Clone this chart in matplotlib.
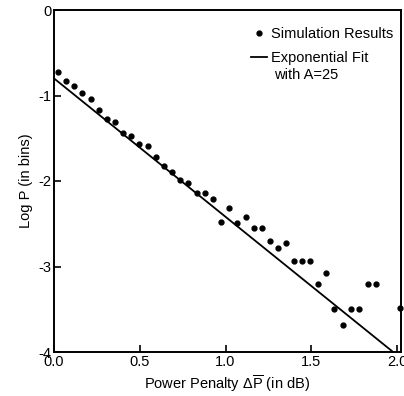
import matplotlib
matplotlib.use("Agg")
import matplotlib.pyplot as plt
from matplotlib.lines import Line2D

plt.rcParams['font.family'] = ['Liberation Sans', 'DejaVu Sans']
plt.rcParams['mathtext.fontset'] = 'custom'
plt.rcParams['mathtext.rm'] = 'Liberation Sans'
plt.rcParams['mathtext.it'] = 'Liberation Sans'
plt.rcParams['axes.unicode_minus'] = False

# Simulation results
sim_x = [0.022, 0.068, 0.117, 0.165, 0.214, 0.261, 0.309, 0.358, 0.405, 0.451,
         0.498, 0.547, 0.594, 0.642, 0.689, 0.737, 0.784, 0.833, 0.880, 0.926,
         0.973, 1.022, 1.068, 1.117, 1.164, 1.210, 1.259, 1.306, 1.352, 1.399,
         1.446, 1.494, 1.541, 1.588, 1.635, 1.683, 1.730, 1.776, 1.829, 1.877,
         2.020]
sim_y = [-0.73, -0.83, -0.89, -0.975, -1.04, -1.17, -1.28, -1.31, -1.44, -1.47,
         -1.57, -1.59, -1.72, -1.83, -1.89, -1.99, -2.02, -2.14, -2.14, -2.21,
         -2.48, -2.32, -2.49, -2.42, -2.55, -2.55, -2.70, -2.78, -2.72, -2.94,
         -2.94, -2.94, -3.20, -3.08, -3.50, -3.68, -3.50, -3.50, -3.20, -3.20,
         -3.49]

# Exponential fit (A = 25)
fit_x = [0.0, 1.977]
fit_y = [-0.80, -4.0]

x_ticks = [0.0, 0.5, 1.0, 1.5, 2.0]
x_tick_labels = ['0.0', '0.5', '1.0', '1.5', '2.0']
y_ticks = [0, -1, -2, -3, -4]
y_tick_labels = ['0', '-1', '-2', '-3', '-4']

fig = plt.figure(figsize=(4.04, 3.96), dpi=100)
ax = fig.add_axes([54/404, 44/396, 347/404, 342/396])

ax.plot(fit_x, fit_y, color='black', lw=1.3)
ax.plot(sim_x, sim_y, 'o', color='black', ms=3.5, clip_on=False)

ax.set_xlim(0, 2.023)
ax.set_ylim(-4, 0)
ax.set_xticks(x_ticks)
ax.set_xticklabels(x_tick_labels)
ax.set_yticks(y_ticks)
ax.set_yticklabels(y_tick_labels)
ax.tick_params(direction='in', length=5, width=1.2, labelsize=10.5, pad=2)

for s in ax.spines.values():
    s.set_linewidth(1.4)

ax.set_xlabel(r'Power Penalty $\Delta\overline{\mathrm{P}}$ (in dB)', fontsize=10.5, labelpad=3)
ax.set_ylabel('Log P (in bins)', fontsize=10.5, labelpad=4)

handles = [Line2D([], [], marker='o', ls='', color='black', ms=3.5),
           Line2D([], [], color='black', lw=1.3)]
ax.legend(handles, ['Simulation Results', 'Exponential Fit'],
          loc='upper left', bbox_to_anchor=(0.55, 0.967), frameon=False,
          fontsize=10.5, handlelength=1.1, handletextpad=0.3, labelspacing=0.68,
          borderaxespad=0)
ax.text(0.634, 0.81, 'with A=25', transform=ax.transAxes, fontsize=10.5,
        ha='left', va='center')

fig.savefig('out.png', dpi=100)
